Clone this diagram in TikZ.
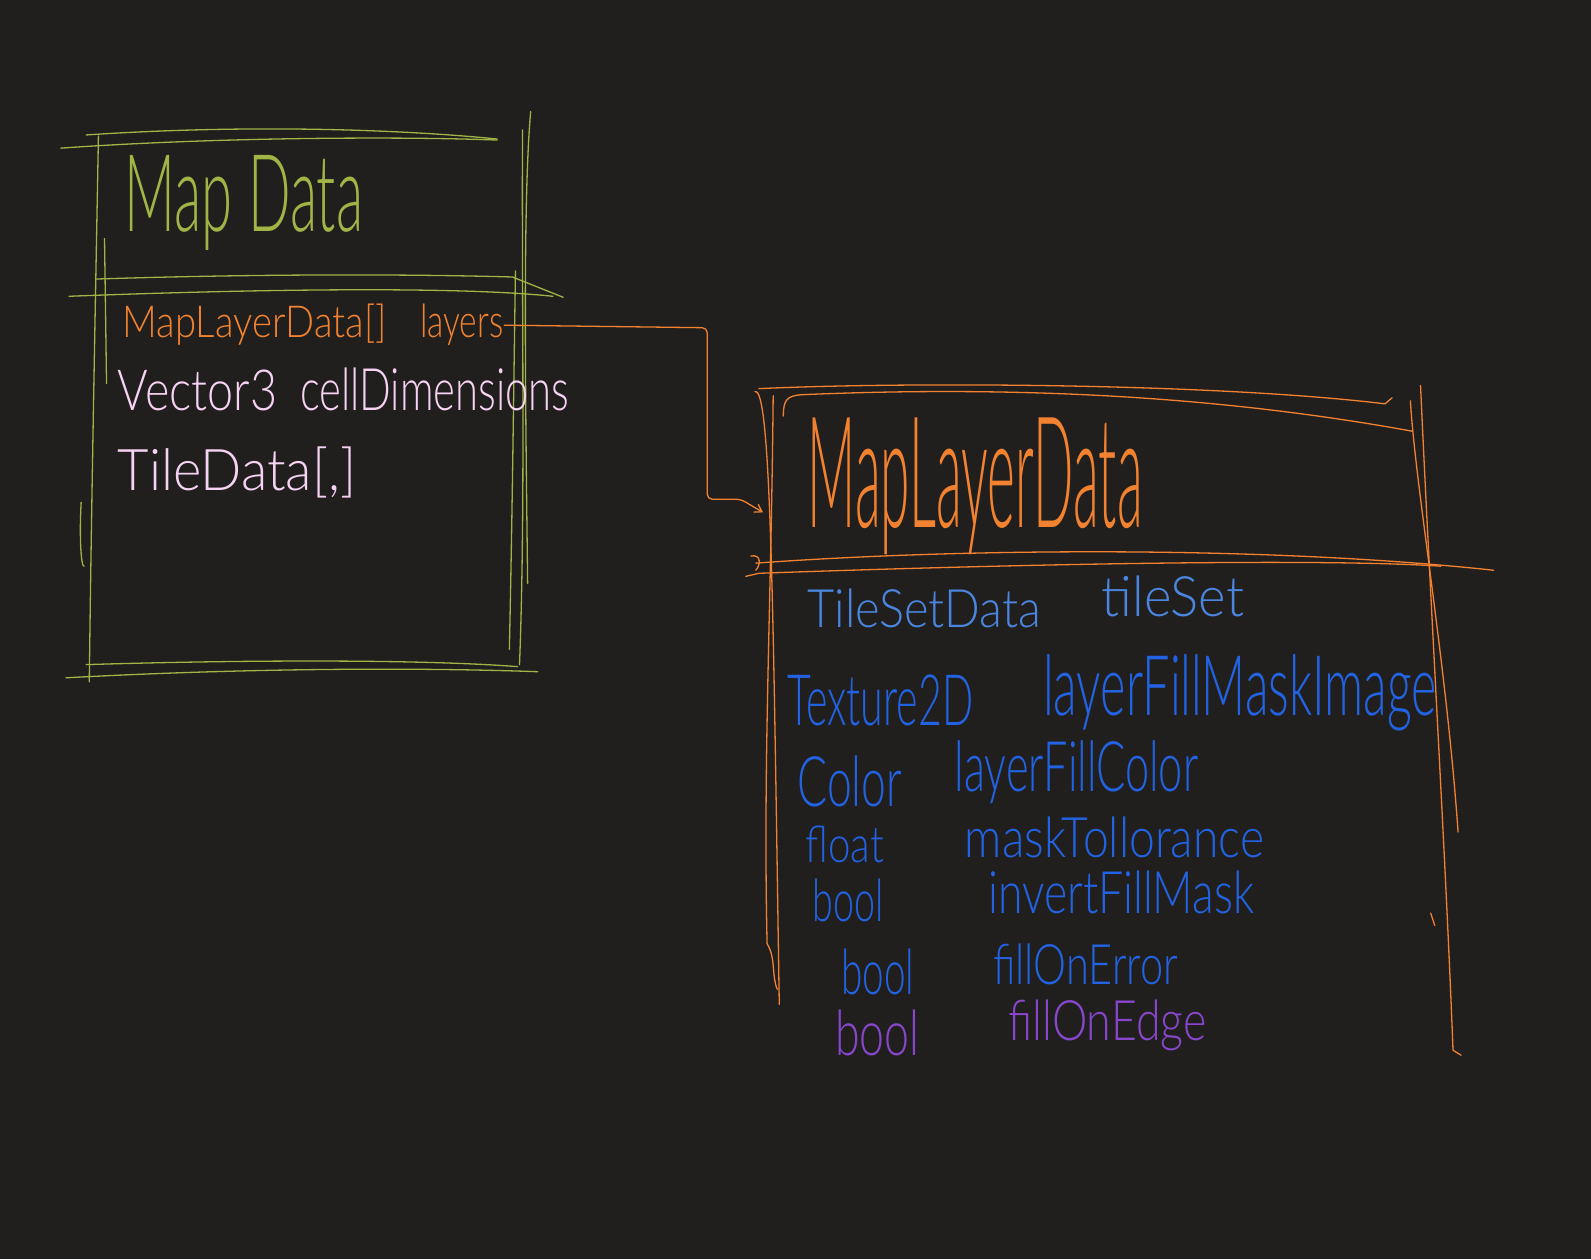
\documentclass[tikz,border=0pt]{standalone}
\usepackage{fontspec}
\setmainfont{Lato}[UprightFont={* Light}]
\usepackage{graphicx}
\usetikzlibrary{arrows.meta}
\definecolor{bgdark}{HTML}{211F1E}
\definecolor{skgreen}{HTML}{A0B546}
\definecolor{skorange}{HTML}{F2822F}
\definecolor{skpink}{HTML}{F7D3F3}
\definecolor{skblue}{HTML}{4A86DF}
\definecolor{skdeep}{HTML}{2263E4}
\definecolor{skpurple}{HTML}{8846CC}
\newlength\pxu
\setlength\pxu{1.0147pt}
\newcommand{\hw}[3]{\resizebox{#1\pxu}{#2\pxu}{#3}}

\begin{document}
\begin{tikzpicture}[x=1.0147pt,y=-1.0147pt,
    pen/.style={line width=1.3pt,line cap=round,line join=round},
    word/.style={anchor=base west,inner sep=0pt,outer sep=1pt}]
                \fill[bgdark] (0,0) rectangle (1568,1241);
                \useasboundingbox (0,0) rectangle (1568,1241);

                \draw[pen,skgreen] (60,146) .. controls (200,136) and (380,134) .. (490,138);
                \draw[pen,skgreen] (85,133) .. controls (250,122) and (400,128) .. (490,137);
                \draw[pen,skgreen] (97,134) .. controls (94,300) and (90,500) .. (88,672);
                \draw[pen,skgreen] (103,235) -- (105,378);
                \draw[pen,skgreen] (80,495) .. controls (78,530) and (80,560) .. (83,558);
                \draw[pen,skgreen] (515,128) .. controls (514,300) and (518,500) .. (512,655);
                \draw[pen,skgreen] (523,110) .. controls (515,200) and (518,400) .. (520,575);
                \draw[pen,skgreen] (508,267) .. controls (506,400) and (505,500) .. (502,640);
                \draw[pen,skgreen] (95,275) .. controls (250,270) and (400,270) .. (505,273) -- (555,293);
                \draw[pen,skgreen] (68,292) .. controls (250,285) and (450,282) .. (545,292);
                \draw[pen,skgreen] (65,668) .. controls (250,658) and (420,658) .. (530,662);
                \draw[pen,skgreen] (85,655) .. controls (250,650) and (420,650) .. (510,657);

                \draw[pen,skorange] (748,383) .. controls (900,376) and (1200,378) .. (1365,398) -- (1372,392);
                \draw[pen,skorange] (772,410) .. controls (772,395) and (775,390) .. (790,389) .. controls (1000,380) and (1200,390) .. (1392,425);
                \draw[pen,skorange] (744,386) .. controls (760,380) and (762,600) .. (768,990);
                \draw[pen,skorange] (762,390) .. controls (760,600) and (752,750) .. (756,930) .. controls (765,945) and (760,960) .. (766,975);
                \draw[pen,skorange] (1400,380) .. controls (1410,600) and (1425,850) .. (1432,1035) -- (1440,1040);
                \draw[pen,skorange] (1390,395) .. controls (1395,480) and (1425,650) .. (1437,820);
                \draw[pen,skorange] (1410,900) -- (1414,912);
                \draw[pen,skorange] (745,555) .. controls (950,540) and (1250,538) .. (1472,562);
                \draw[pen,skorange] (735,568) -- (748,565) .. controls (1000,556) and (1300,550) .. (1420,558);
                \draw[pen,skorange] (740,548) .. controls (750,546) and (750,556) .. (745,562);

                \node[word,skgreen] (mdTitle) at (122,228) {\hw{235}{75}{Map Data}};
                \node[word,skorange] (mdType) at (120,333) {\hw{260}{33}{MapLayerData[]}};
                \node[word,skorange] (layers) at (413,333) {\hw{82}{33}{layers}};
                \node[word,skpink] (vecType) at (115,405) {\hw{157}{40}{Vector3}};
                \node[word,skpink] (cellDim) at (295,405) {\hw{265}{42}{cellDimensions}};
                \node[word,skpink] (tileArr) at (115,483) {\hw{235}{43}{TileData[,]}};

                \node[word,skorange] (mldTitle) at (795,520) {\hw{330}{108}{MapLayerData}};
                \node[word,skblue] (tsType) at (795,618) {\hw{230}{38}{TileSetData}};
                \node[word,skblue] (tileSet) at (1085,608) {\hw{140}{40}{tileSet}};
                \node[word,skdeep] (texType) at (775,715) {\hw{183}{50}{Texture2D}};
                \node[word,skdeep] (maskImg) at (1027,705) {\hw{388}{60}{layerFillMaskImage}};
                \node[word,skdeep] (colType) at (785,795) {\hw{103}{50}{Color}};
                \node[word,skdeep] (fillCol) at (940,780) {\hw{240}{50}{layerFillColor}};
                \node[word,skdeep] (fltType) at (793,850) {\hw{77}{36}{float}};
                \node[word,skdeep] (maskTol) at (950,845) {\hw{295}{40}{maskTollorance}};
                \node[word,skdeep] (boolA) at (800,908) {\hw{70}{42}{bool}};
                \node[word,skdeep] (invMask) at (973,900) {\hw{262}{42}{invertFillMask}};
                \node[word,skdeep] (boolB) at (828,980) {\hw{72}{45}{bool}};
                \node[word,skdeep] (fillErr) at (978,970) {\hw{182}{40}{fillOnError}};
                \node[word,skpurple] (boolC) at (822,1040) {\hw{83}{45}{bool}};
                \node[word,skpurple] (fillEdge) at (993,1025) {\hw{195}{40}{fillOnEdge}};

                \coordinate (bendTop) at (697,323);
                \coordinate (bendLow) at (697,492);
                \coordinate (mldIn) at (752,505);
                \draw[pen,skorange,rounded corners=5pt,-{Straight Barb[length=7pt,width=9pt]}]
                    (layers.east) -- (bendTop) -- (bendLow) -- (730,492) -- (mldIn);
\end{tikzpicture}
\end{document}
